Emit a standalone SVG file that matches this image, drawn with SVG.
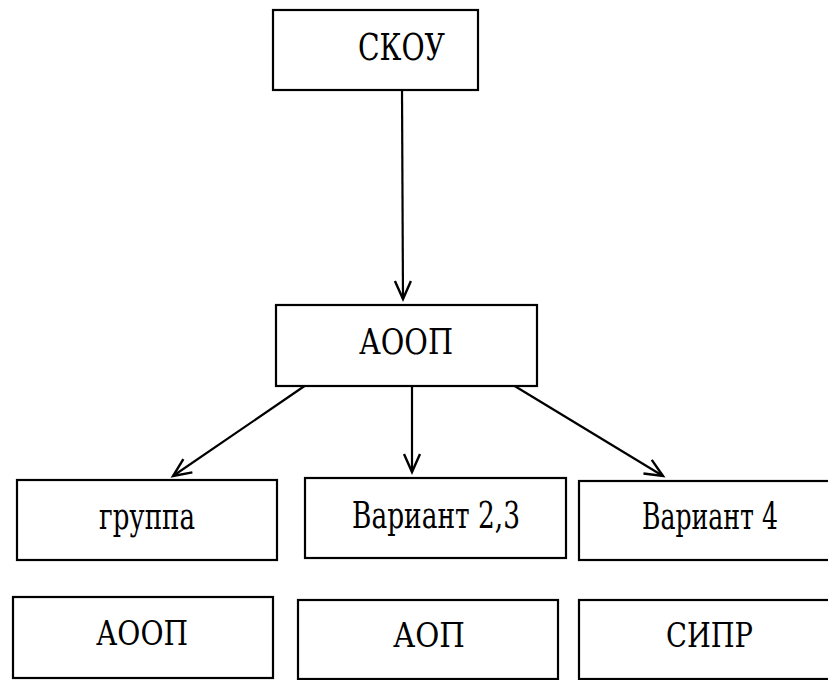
<svg xmlns="http://www.w3.org/2000/svg" width="828" height="680" viewBox="0 0 828 680">
<style>
.box{fill:#fff;stroke:#000;stroke-width:2.2}
.t{fill:#000;text-anchor:middle;font-family:"DejaVu Serif",serif}
.c{stroke:#000;stroke-width:2.2;fill:none}
</style>
<defs>
<marker id="ah" markerUnits="userSpaceOnUse" markerWidth="22" markerHeight="20" refX="18" refY="9" orient="auto" overflow="visible">
<path d="M0,1 L18,9 L0,17" fill="none" stroke="#000" stroke-width="2.4"/>
</marker>
</defs>
<rect width="828" height="680" fill="#fff"/>
<g id="connectors">
<line class="c" x1="402" y1="90" x2="403" y2="299" marker-end="url(#ah)"/>
<line class="c" x1="306" y1="385" x2="173" y2="476" marker-end="url(#ah)"/>
<line class="c" x1="412" y1="386" x2="412" y2="472" marker-end="url(#ah)"/>
<line class="c" x1="513" y1="385" x2="663" y2="476" marker-end="url(#ah)"/>
</g>
<g id="skou">
<rect class="box" x="273" y="10" width="205" height="80"/>
<text class="t" x="401.5" y="60" font-size="38" textLength="87" lengthAdjust="spacingAndGlyphs">СКОУ</text>
</g>
<g id="aoop">
<rect class="box" x="276" y="305" width="261" height="81"/>
<text class="t" x="406" y="354" font-size="36" textLength="94" lengthAdjust="spacingAndGlyphs">АООП</text>
</g>
<g id="gruppa">
<rect class="box" x="17" y="480" width="260" height="80"/>
<text class="t" x="147" y="529" font-size="38" textLength="96" lengthAdjust="spacingAndGlyphs">группа</text>
</g>
<g id="variant23">
<rect class="box" x="305" y="478" width="261" height="80"/>
<text class="t" x="436" y="528" font-size="38" textLength="168" lengthAdjust="spacingAndGlyphs">Вариант 2,3</text>
</g>
<g id="variant4">
<rect class="box" x="579" y="481" width="251" height="79"/>
<text class="t" x="710" y="529" font-size="38" textLength="136" lengthAdjust="spacingAndGlyphs">Вариант 4</text>
</g>
<g id="aoop2">
<rect class="box" x="13" y="597" width="260" height="81"/>
<text class="t" x="142" y="645" font-size="33" textLength="92" lengthAdjust="spacingAndGlyphs">АООП</text>
</g>
<g id="aop">
<rect class="box" x="298" y="600" width="260" height="79"/>
<text class="t" x="429" y="647" font-size="33" textLength="72" lengthAdjust="spacingAndGlyphs">АОП</text>
</g>
<g id="sipr">
<rect class="box" x="579" y="600" width="251" height="79"/>
<text class="t" x="709.5" y="647" font-size="33" textLength="87" lengthAdjust="spacingAndGlyphs">СИПР</text>
</g>
</svg>
